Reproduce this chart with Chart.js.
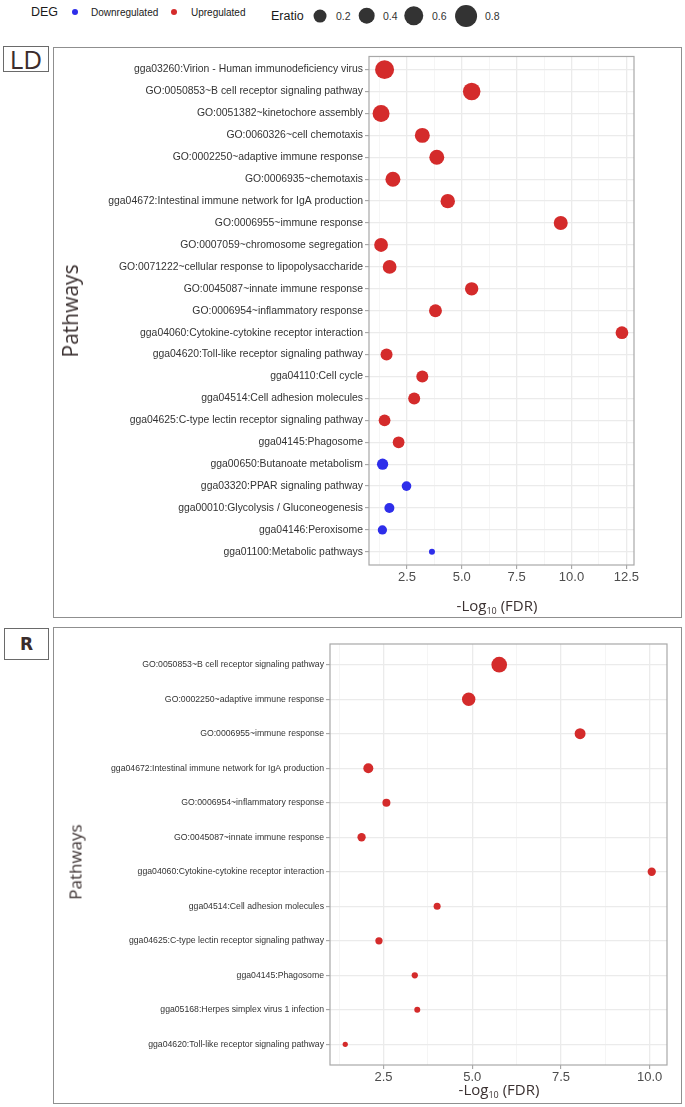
<!DOCTYPE html>
<html>
<head>
<meta charset="utf-8">
<script src="https://cdn.jsdelivr.net/npm/chart.js@4.4.1/dist/chart.umd.min.js"></script>
<style>
  html, body { margin: 0; padding: 0; background: #fff; }
  body { width: 685px; height: 1107px; position: relative; overflow: hidden; font-family: "Liberation Sans", Arial, sans-serif; }
  .abs { position: absolute; }
  .frame { position: absolute; box-sizing: border-box; border: 1.5px solid #8f8f8f; }
  .tag { position: absolute; box-sizing: border-box; border: 1px solid #6a6a6a; background: #fff; display: flex; align-items: center; justify-content: center; color: #3a2c2c; }
  .ytitle { position: absolute; transform: translate(-50%, -50%) rotate(-90deg); white-space: nowrap; font-family: "Open Sans", sans-serif; color: #3b3131; }
  .xtitle { position: absolute; transform: translate(-50%, -50%); white-space: nowrap; font-family: "Open Sans", sans-serif; color: #3b3131; font-size: 15px; }
  .xtitle sub { font-size: 9px; vertical-align: -3px; }
  .leg { position: absolute; transform: translateY(-50%); white-space: nowrap; color: #1a1a1a; }
  .dot { position: absolute; border-radius: 50%; transform: translate(-50%, -50%); }
</style>
</head>
<body>
<div id="legend"></div>

<div class="frame" style="left:53px; top:47px; width:629px; height:571px;"></div>
<div class="abs" style="left:53px; top:47px; width:629px; height:571px;"><canvas id="ld"></canvas></div>
<div class="tag" style="left:3px; top:46px; width:46px; height:26px; font-family:'Open Sans',sans-serif; font-size:26px;">LD</div>
<div class="ytitle" style="left:70px; top:311px; font-size:21px;">Pathways</div>
<div class="xtitle" style="left:497px; top:606px;">-Log<sub>10</sub> (FDR)</div>

<div class="frame" style="left:53px; top:627px; width:629px; height:477px;"></div>
<div class="abs" style="left:53px; top:627px; width:629px; height:477px;"><canvas id="rr"></canvas></div>
<div class="tag" style="left:4px; top:628px; width:45px; height:32px; font-family:'DejaVu Sans',sans-serif; font-weight:bold; font-size:17px;">R</div>
<div class="ytitle" style="left:75px; top:862px; font-size:17px;">Pathways</div>
<div class="xtitle" style="left:499px; top:1090px;">-Log<sub>10</sub> (FDR)</div>

<script>
// ---------------- data ----------------
const ldPathways = [
  'gga03260:Virion - Human immunodeficiency virus',
  'GO:0050853~B cell receptor signaling pathway',
  'GO:0051382~kinetochore assembly',
  'GO:0060326~cell chemotaxis',
  'GO:0002250~adaptive immune response',
  'GO:0006935~chemotaxis',
  'gga04672:Intestinal immune network for IgA production',
  'GO:0006955~immune response',
  'GO:0007059~chromosome segregation',
  'GO:0071222~cellular response to lipopolysaccharide',
  'GO:0045087~innate immune response',
  'GO:0006954~inflammatory response',
  'gga04060:Cytokine-cytokine receptor interaction',
  'gga04620:Toll-like receptor signaling pathway',
  'gga04110:Cell cycle',
  'gga04514:Cell adhesion molecules',
  'gga04625:C-type lectin receptor signaling pathway',
  'gga04145:Phagosome',
  'gga00650:Butanoate metabolism',
  'gga03320:PPAR signaling pathway',
  'gga00010:Glycolysis / Gluconeogenesis',
  'gga04146:Peroxisome',
  'gga01100:Metabolic pathways'
];
const ldFdr = [1.48, 5.45, 1.32, 3.20, 3.86, 1.86, 4.36, 9.51, 1.32, 1.71, 5.45, 3.80, 12.30,
               1.57, 3.20, 2.83, 1.48, 2.12, 1.39, 2.48, 1.70, 1.38, 3.64];
const ldEratio = [0.56, 0.46, 0.42, 0.30, 0.30, 0.30, 0.27, 0.25, 0.24, 0.24, 0.22, 0.20, 0.19,
                  0.16, 0.16, 0.16, 0.15, 0.15, 0.13, 0.08, 0.09, 0.07, 0.01];
const ldDeg = ['Up','Up','Up','Up','Up','Up','Up','Up','Up','Up','Up','Up','Up',
               'Up','Up','Up','Up','Up','Down','Down','Down','Down','Down'];

const rPathways = [
  'GO:0050853~B cell receptor signaling pathway',
  'GO:0002250~adaptive immune response',
  'GO:0006955~immune response',
  'gga04672:Intestinal immune network for IgA production',
  'GO:0006954~inflammatory response',
  'GO:0045087~innate immune response',
  'gga04060:Cytokine-cytokine receptor interaction',
  'gga04514:Cell adhesion molecules',
  'gga04625:C-type lectin receptor signaling pathway',
  'gga04145:Phagosome',
  'gga05168:Herpes simplex virus 1 infection',
  'gga04620:Toll-like receptor signaling pathway'
];
const rFdr = [5.76, 4.90, 8.04, 2.07, 2.58, 1.88, 10.06, 4.01, 2.37, 3.38, 3.45, 1.42];
const rEratio = [0.34, 0.22, 0.12, 0.09, 0.04, 0.046, 0.046, 0.023, 0.027, 0.013, 0.01, 0.004];
const rDeg = ['Up','Up','Up','Up','Up','Up','Up','Up','Up','Up','Up','Up'];

const ldXTicks = [2.5, 5.0, 7.5, 10.0, 12.5];
const ldXMinor = [1.25, 3.75, 6.25, 8.75, 11.25];
const rXTicks = [2.5, 5.0, 7.5, 10.0];
const rXMinor = [1.25, 3.75, 6.25, 8.75];

const degLevels = ['Downregulated', 'Upregulated'];
const eratioLegend = [0.2, 0.4, 0.6, 0.8];

// ---------------- styles ----------------
const RED = '#d42b2b';
const BLUE = '#2e2eea';
function diameterFor(e) { return 4 + 20 * Math.sqrt(e); }

// ---------------- legend (HTML) ----------------
(function buildLegend() {
  const L = document.getElementById('legend');
  const add = (html) => { L.insertAdjacentHTML('beforeend', html); };
  add('<div class="leg" style="left:31px; top:12px; font-size:12.5px;">DEG</div>');
  const degX = [[74.7, 91], [174, 191]];
  degLevels.forEach((lab, i) => {
    const col = i === 0 ? BLUE : RED;
    add(`<div class="dot" style="left:${degX[i][0]}px; top:12px; width:6px; height:6px; background:${col};"></div>`);
    add(`<div class="leg" style="left:${degX[i][1]}px; top:12px; font-size:10px;">${lab}</div>`);
  });
  add('<div class="leg" style="left:271px; top:16px; font-size:12.5px;">Eratio</div>');
  const cx = [320, 366.7, 414, 466];
  const tx = [336, 383, 432, 485];
  eratioLegend.forEach((e, i) => {
    const d = diameterFor(e);
    add(`<div class="dot" style="left:${cx[i]}px; top:15.7px; width:${d}px; height:${d}px; background:#333;"></div>`);
    add(`<div class="leg" style="left:${tx[i]}px; top:15.5px; font-size:10.5px; color:#333;">${e.toFixed(1)}</div>`);
  });
})();

// ---------------- charts ----------------
const borderPlugin = {
  id: 'panelBorder',
  afterDatasetsDraw(chart) {
    const a = chart.chartArea, c = chart.ctx;
    c.save();
    c.strokeStyle = '#a8a8a8';
    c.lineWidth = 1.2;
    c.strokeRect(a.left, a.top, a.right - a.left, a.bottom - a.top);
    c.restore();
  }
};

function buildPanel(id, pathways, fdr, eratio, deg, majors, minors, cfg) {
  const points = pathways.map((p, i) => ({ x: fdr[i], y: i }));
  const gridVals = majors.concat(minors).sort((a, b) => a - b);
  const isMajor = v => majors.some(m => Math.abs(m - v) < 1e-9);
  const radius = c => diameterFor(eratio[c.dataIndex]) / 2;
  const colour = c => deg[c.dataIndex] === 'Up' ? RED : BLUE;
  return new Chart(document.getElementById(id), {
    type: 'scatter',
    data: {
      datasets: [{
        data: points,
        pointRadius: radius,
        pointHoverRadius: radius,
        pointBackgroundColor: colour,
        pointBorderColor: colour,
        pointBorderWidth: 0,
        clip: false
      }]
    },
    options: {
      responsive: true,
      maintainAspectRatio: false,
      animation: false,
      events: [],
      layout: { padding: { top: cfg.padTop, right: cfg.padRight, left: 0, bottom: 0 } },
      plugins: { legend: { display: false }, tooltip: { enabled: false } },
      scales: {
        x: {
          type: 'linear',
          min: cfg.xMin,
          max: cfg.xMax,
          afterBuildTicks: ax => { ax.ticks = gridVals.map(v => ({ value: v })); },
          afterFit: ax => { ax.height = cfg.xHeight; },
          ticks: {
            autoSkip: false,
            maxRotation: 0,
            padding: 1,
            color: '#4d4d4d',
            font: { family: '"Liberation Sans", Arial, sans-serif', size: 13 },
            callback: v => isMajor(v) ? v.toFixed(1) : ''
          },
          grid: {
            color: c => isMajor(c.tick.value) ? '#ebebeb' : '#f4f4f4',
            lineWidth: c => isMajor(c.tick.value) ? 1.3 : 0.9,
            tickLength: 4,
            tickColor: c => isMajor(c.tick.value) ? '#9a9a9a' : 'rgba(0,0,0,0)',
            tickWidth: 1
          },
          border: { display: false }
        },
        y: {
          type: 'linear',
          reverse: true,
          min: -0.6,
          max: pathways.length - 1 + 0.6,
          afterBuildTicks: ax => { ax.ticks = pathways.map((p, i) => ({ value: i })); },
          afterFit: ax => { ax.width = cfg.yWidth; },
          ticks: {
            autoSkip: false,
            padding: 2,
            color: '#333333',
            font: { family: '"Liberation Sans", Arial, sans-serif', size: cfg.yFont },
            callback: v => pathways[v]
          },
          grid: {
            color: '#ebebeb',
            lineWidth: 1.3,
            tickLength: 4,
            tickColor: '#9a9a9a',
            tickWidth: 1
          },
          border: { display: false }
        }
      }
    },
    plugins: [borderPlugin]
  });
}

buildPanel('ld', ldPathways, ldFdr, ldEratio, ldDeg, ldXTicks, ldXMinor,
  { xMin: 0.77, xMax: 12.85, padTop: 9, padRight: 48, xHeight: 53, yWidth: 316, yFont: 10.4 });
buildPanel('rr', rPathways, rFdr, rEratio, rDeg, rXTicks, rXMinor,
  { xMin: 0.99, xMax: 10.49, padTop: 17, padRight: 15, xHeight: 39, yWidth: 277, yFont: 8.7 });
</script>
</body>
</html>
